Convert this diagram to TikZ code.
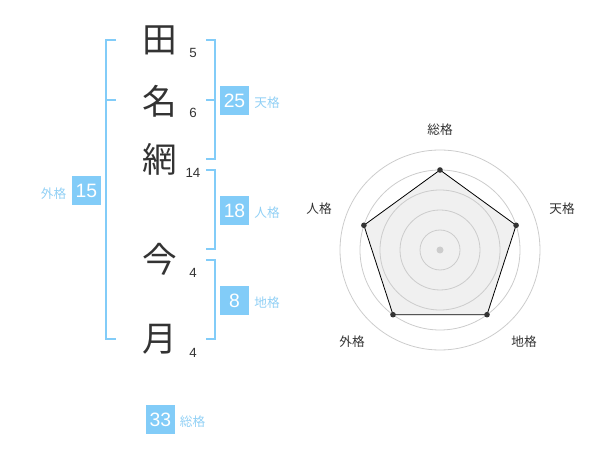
\documentclass[tikz,border=0pt]{standalone}
\usepackage{fontspec}
\setmainfont{Liberation Sans}
\newfontfamily\jpfont{Noto Sans CJK JP}
\usetikzlibrary{calc}
\definecolor{sky}{RGB}{130,204,248}
\definecolor{skytext}{RGB}{145,208,245}
\definecolor{ink}{RGB}{51,51,51}
\definecolor{ring}{RGB}{204,204,204}
\definecolor{area}{RGB}{240,240,240}
\tikzset{
  kanji/.style={inner sep=0pt, text=ink, font=\jpfont\fontsize{26}{26}\selectfont},
  strokes/.style={inner sep=0pt, text=ink, font=\fontsize{10}{10}\selectfont},
  kakubox/.style={fill=sky, text=white, minimum size=21.75pt, inner sep=0pt, font=\fontsize{14.5}{14.5}\selectfont},
  kakuname/.style={inner sep=0pt, text=skytext, font=\jpfont\fontsize{9.5}{9.5}\selectfont},
  bracket/.style={draw=sky, line width=1.5pt},
  axisname/.style={inner sep=0pt, text=ink, font=\jpfont\fontsize{9.5}{9.5}\selectfont},
}

\begin{document}
\begin{tikzpicture}[x=0.75pt, y=-0.75pt]
			%%%%% START %%%%%
			\useasboundingbox (0, 0) rectangle (600, 470);
			
			% name
			\node[kanji] (ta) at (160, 40.5) {田};
			\node[kanji] (na) at (160, 101) {名};
			\node[kanji] (ami) at (160, 159) {網};
			\node[kanji] (ima) at (160, 259) {今};
			\node[kanji] (tsuki) at (160, 339) {月};
			
			\node[strokes] (nta) at (193, 53) {5};
			\node[strokes] (nna) at (193, 113) {6};
			\node[strokes] (nami) at (193, 173) {14};
			\node[strokes] (nima) at (193, 273) {4};
			\node[strokes] (ntsuki) at (193, 353) {4};
			
			% brackets
			\draw[bracket] (116, 40) -- (105.5, 40) -- (105.5, 339.5) -- (116, 339.5);
			\draw[bracket] (105.5, 100) -- (116, 100);
			\draw[bracket] (206, 40) -- (214.5, 40) -- (214.5, 159.5) -- (206, 159.5);
			\draw[bracket] (214.5, 100) -- (206, 100);
			\draw[bracket] (206, 170) -- (214.5, 170) -- (214.5, 249.5) -- (206, 249.5);
			\draw[bracket] (206, 260) -- (214.5, 260) -- (214.5, 339.5) -- (206, 339.5);
			
			% kaku
			\node[kakubox] (gai) at (86.5, 190.5) {15};
			\node[kakuname] (gainame) at (53.5, 194) {外格};
			\node[kakubox] (ten) at (234.5, 100.5) {25};
			\node[kakuname] (tenname) at (267, 103) {天格};
			\node[kakubox] (jin) at (234.5, 210.5) {18};
			\node[kakuname] (jinname) at (267, 213) {人格};
			\node[kakubox] (chi) at (234.5, 300.5) {8};
			\node[kakuname] (chiname) at (267, 303) {地格};
			\node[kakubox] (so) at (160.5, 419.5) {33};
			\node[kakuname] (soname) at (192.5, 422) {総格};
			
			% radar
			\coordinate (c) at (440, 250);
			\coordinate (pso) at (440, 170);
			\coordinate (pten) at (516.1, 225.3);
			\coordinate (pchi) at (487, 314.7);
			\coordinate (pgai) at (393, 314.7);
			\coordinate (pjin) at (363.9, 225.3);
			\fill[area] (pso) -- (pten) -- (pchi) -- (pgai) -- (pjin) -- cycle;
			\draw[ring, line width=0.6pt] (c) circle (20);
			\draw[ring, line width=0.6pt] (c) circle (40);
			\draw[ring, line width=0.6pt] (c) circle (60);
			\draw[ring, line width=0.6pt] (c) circle (80);
			\draw[ring, line width=0.6pt] (c) circle (100);
			\fill[ring] (c) circle (3.5);
			\draw[black, line width=0.6pt] (pso) -- (pten) -- (pchi) -- (pgai) -- (pjin) -- cycle;
			\fill[ink] (pso) circle (2.8);
			\fill[ink] (pten) circle (2.8);
			\fill[ink] (pchi) circle (2.8);
			\fill[ink] (pgai) circle (2.8);
			\fill[ink] (pjin) circle (2.8);
			
			\node[axisname] (aso) at (440, 130) {総格};
			\node[axisname] (aten) at (562, 209) {天格};
			\node[axisname] (achi) at (524, 342) {地格};
			\node[axisname] (agai) at (352, 342) {外格};
			\node[axisname] (ajin) at (319, 209) {人格};
			%%%%% END %%%%%
\end{tikzpicture}
\end{document}
